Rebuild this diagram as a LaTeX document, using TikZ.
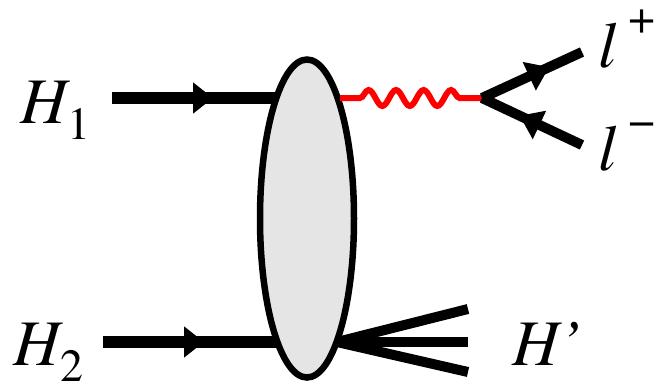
\documentclass[tikz,border=0pt]{standalone}
\usepackage{fontspec}
\newfontfamily\labelfont{texgyretermes}[Extension=.otf, UprightFont=*-regular, ItalicFont=*-italic]
\usetikzlibrary{shapes.geometric, arrows.meta, decorations.markings, decorations.pathmorphing}
\pgfdeclarelayer{bg}
\pgfsetlayers{bg,main}
\newcommand{\lowidx}[1]{\raisebox{-16pt}{\fontsize{46}{46}\selectfont\upshape #1}}
\newcommand{\upidx}[1]{\hspace{12pt}\raisebox{34pt}{\fontsize{48}{48}\selectfont\upshape #1}}

\begin{document}
\begin{tikzpicture}[x=1pt, y=-1pt,
    hadron/.style={line width=12pt, postaction={decorate},
      decoration={markings, mark=at position 101pt with {\arrow{Triangle[length=20pt, width=30pt]}}}},
    lepton/.style={line width=10pt, postaction={decorate},
      decoration={markings, mark=at position #1 with {\arrow{Triangle[length=22pt, width=30pt]}}}},
    photon/.style={red, line width=6pt, decorate,
      decoration={snake, segment length=27.5pt, amplitude=8pt, pre length=20pt, post length=12pt}},
    jet/.style={line width=10pt},
    lbl/.style={font=\labelfont\fontsize{65}{65}\selectfont\itshape, inner sep=0pt}]
  \useasboundingbox (0,0) rectangle (662,384);

  % Blob
  \node[ellipse, draw, line width=6.5pt, fill=gray!20, minimum width=94pt, minimum height=318pt, inner sep=0pt] (blob) at (307,218.5) {};

  % End points
  \coordinate (h1a) at (112,98);
  \coordinate (h2a) at (103,342);
  \coordinate (vtx) at (482,98);
  \coordinate (lp) at (582,52);
  \coordinate (lm) at (582,145);
  \coordinate (jb) at (337,342);
  \coordinate (j1) at (468,309);
  \coordinate (j2) at (468,342);
  \coordinate (j3) at (468,372);

  % Incoming hadrons and jets (behind blob)
  \begin{pgfonlayer}{bg}
    \draw[hadron] (h1a) -- (h1a -| blob.center);
    \draw[hadron] (h2a) -- (h2a -| blob.center);
    \draw[jet] (jb) -- (j1);
    \draw[jet] (jb) -- (j2);
    \draw[jet] (jb) -- (j3);
  \end{pgfonlayer}

  % Photon and leptons
  \draw[photon] (340,98) -- (vtx);
  \draw[lepton=74pt] (vtx) -- (lp);
  \draw[lepton=69pt] (lm) -- (vtx);

  % Labels
  \node[lbl, anchor=base west] (h1lbl) at (20,123) {H\lowidx{1}};
  \node[lbl, anchor=base west] (h2lbl) at (13,365) {H\lowidx{2}};
  \node[lbl, anchor=base west] (lplbl) at (598,67) {l\upidx{+}};
  \node[lbl, anchor=base west] (lmlbl) at (598,170) {l\upidx{−}};
  \node[lbl, anchor=base west] (hplbl) at (512,365) {H’};
\end{tikzpicture}
\end{document}
